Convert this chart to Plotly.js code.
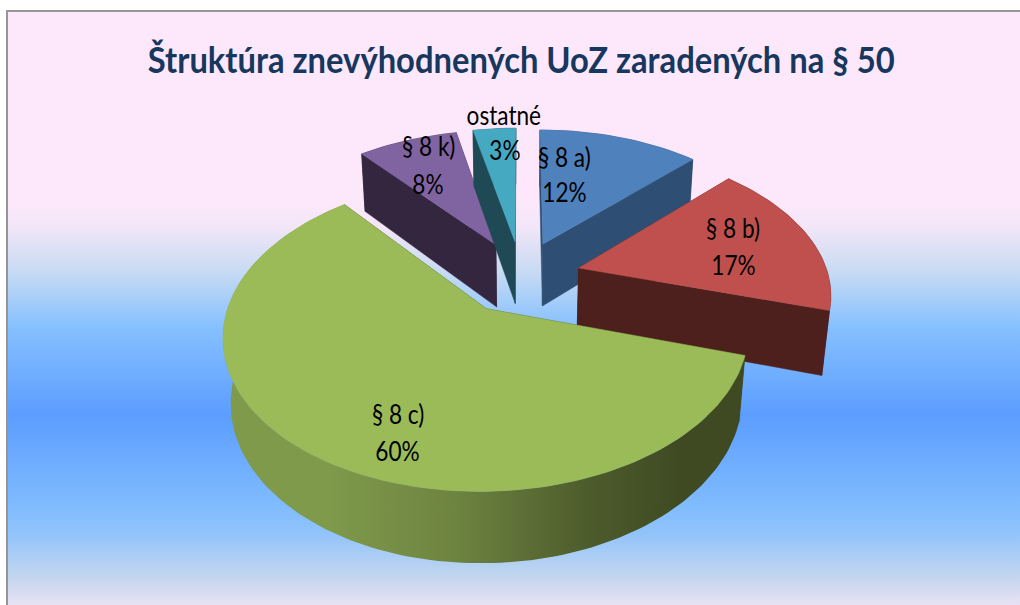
<!DOCTYPE html>
<html><head><meta charset="utf-8">
<script src="https://cdn.plot.ly/plotly-3.0.1.min.js"></script>
<style>
html,body{margin:0;padding:0;background:#fff;overflow:hidden}
#frame{position:absolute;left:6px;top:10px;width:1014px;height:595px;box-sizing:border-box;border-left:2px solid #969696;border-top:2px solid #969696;
background:linear-gradient(to bottom,#fde8fb 0,#fde8fb 190px,#f2e6f8 215px,#c5daf3 262px,#86c0ff 315px,#5c9dff 403px,#80bcff 495px,#90c3fb 520px,#c3d6ee 565px,#e8e2f4 593px)}
#chart{position:absolute;left:0;top:0;width:1020px;height:605px}
</style></head><body>
<div id="frame"></div><div id="chart"></div>
<script>
const categories = ['§ 8 a)', '§ 8 b)', '§ 8 c)', '§ 8 k)', 'ostatné'];
const values = [12.4, 17.4, 59.5, 7.7, 3.3];
const percentLabels = ['12%', '17%', '60%', '8%', '3%'];
const topColors = ['#4f81bd', '#c0504d', '#9bbb59', '#8064a2', '#46a9c2'];
const sideColors = ['#2f4e73', '#4d1f1d', '#3f4a22', '#35263f', '#1f4a55'];
const nameX = [564, 733, 398, 428, 504];
const nameY = [157, 228, 414, 146, 115];
const percentX = [564, 733, 397, 428, 505];
const percentY = [192, 265, 451, 184, 150];
const drawOrder = [3, 4, 0, 1, 2];

// projection of a tilted, exploded pie
const view = {cx: 521, cy: 277, f: 250, fs: 142, k: 0.16, m: 0.025, depth: 65, explodeX: 0.24, explodeY: 0.26};
function project(X, Y, Z) {
  const w = 1 + view.k * Y + view.m * Z;
  return [view.cx + view.f * X / w, view.cy - view.fs * Y / w + view.depth * Z / w];
}
const total = values.reduce((a, b) => a + b, 0);
const rad = d => d * Math.PI / 180;
let traces = [];
function poly(pts, color, grad) {
  const t = {type: 'scatter', mode: 'lines', x: pts.map(p => p[0]), y: pts.map(p => p[1]),
    fill: 'toself', fillcolor: color, line: {width: grad ? 0 : 0.5, color: color}, hoverinfo: 'skip', showlegend: false};
  if (grad) t.fillgradient = grad;
  traces.push(t);
}
let cum = 0;
const slices = values.map(v => { const s = {a0: cum / total * 360, a1: (cum + v) / total * 360}; cum += v; return s; });
drawOrder.forEach(i => {
  const s = slices[i], mid = rad((s.a0 + s.a1) / 2);
  const ox = view.explodeX * Math.sin(mid), oy = view.explodeY * Math.cos(mid);
  const n = Math.max(8, Math.round((s.a1 - s.a0) / 1.5));
  const rim = z => { const r = []; for (let j = 0; j <= n; j++) { const a = rad(s.a0 + (s.a1 - s.a0) * j / n); r.push(project(ox + Math.sin(a), oy + Math.cos(a), z)); } return r; };
  const top = rim(0), bot = rim(1);
  const a0 = project(ox, oy, 0), a1 = project(ox, oy, 1);
  poly([a0, top[0], bot[0], a1, a0], sideColors[i]);
  poly([a0, top[n], bot[n], a1, a0], sideColors[i]);
  const wall = top.concat(bot.slice().reverse()); wall.push(top[0]);
  const grad = i === 2 ? {type: 'horizontal', start: 224, stop: 742,
    colorscale: [[0, '#7f9a4b'], [0.2, '#7f9a4b'], [0.45, '#6d8340'], [0.7, '#4d5c2c'], [0.88, '#3f4a22'], [1, '#3f4a22']]} : null;
  poly(wall, sideColors[i], grad);
  poly([a0].concat(top, [a0]), topColors[i]);
});
const labelFont = {family: 'Lato', size: 26, color: '#000'};
const annotations = categories.map((c, i) => ({x: nameX[i], y: nameY[i], xref: 'x', yref: 'y', showarrow: false, text: c, font: labelFont}))
  .concat(percentLabels.map((p, i) => ({x: percentX[i], y: percentY[i], xref: 'x', yref: 'y', showarrow: false, text: p, font: labelFont})));
const layout = {
  width: 1020, height: 605, margin: {l: 0, r: 0, t: 0, b: 0},
  paper_bgcolor: 'rgba(0,0,0,0)', plot_bgcolor: 'rgba(0,0,0,0)',
  title: {text: 'Štruktúra znevýhodnených UoZ zaradených na § 50', x: 0.511, xanchor: 'center', xref: 'paper', y: 0.9, yanchor: 'middle',
    font: {family: 'Lato', size: 37, weight: 700, color: '#17375e'}},
  xaxis: {range: [0, 1020], visible: false, fixedrange: true},
  yaxis: {range: [605, 0], visible: false, fixedrange: true},
  annotations: annotations, showlegend: false
};
function squeeze(el, sx) {
  const b = el.getBBox(), c = b.x + b.width / 2;
  el.setAttribute('transform', 'translate(' + c + ',0) scale(' + sx + ',1) translate(' + (-c) + ',0)');
}
Plotly.newPlot('chart', traces, layout, {displayModeBar: false, staticPlot: true}).then(() => {
  document.querySelectorAll('.annotation-text').forEach(el => squeeze(el, 0.87));
  document.querySelectorAll('.gtitle').forEach(el => squeeze(el, 0.885));
});
</script></body></html>
